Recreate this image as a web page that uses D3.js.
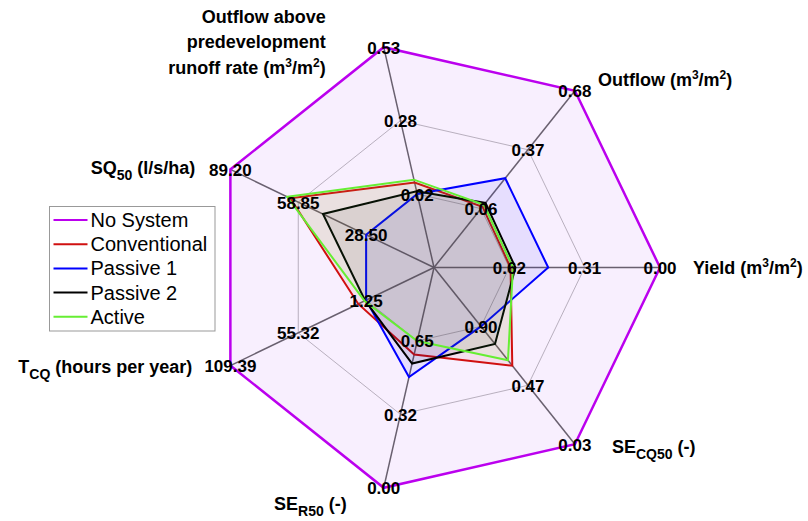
<!DOCTYPE html>
<html>
<head>
<meta charset="utf-8">
<script src="https://cdn.jsdelivr.net/npm/d3@7"></script>
<style>
  html, body { margin: 0; padding: 0; background: #fff; }
  svg { display: block; font-family: Arial, "Liberation Sans", sans-serif; }
</style>
</head>
<body>
<svg id="chart" width="808" height="521"></svg>
<script>
// ---- data ----
const categories = ["Yield", "Outflow", "Outflow above predevelopment runoff rate", "SQ50", "TCQ", "SE_R50", "SE_CQ50"];
const innerValues = [0.62, 0.06, 0.02, 28.50, 1.25, 0.65, 0.90];
const outerValues = [0.00, 0.68, 0.53, 89.20, 109.39, 0.00, 0.03];
const tickLabels = [
  ["0.62", "0.31", "0.00"],
  ["0.06", "0.37", "0.68"],
  ["0.02", "0.28", "0.53"],
  ["28.50", "58.85", "89.20"],
  ["1.25", "55.32", "109.39"],
  ["0.65", "0.32", "0.00"],
  ["0.90", "0.47", "0.03"]
];
const seriesNames = ["No System", "Conventional", "Passive 1", "Passive 2", "Active"];
const noSystem     = [0.00, 0.68, 0.53, 89.20, 109.39, 0.00, 0.03];
const conventional = [0.615, 0.07, 0.06, 62.4, 7.5, 0.59, 0.61];
const passive1     = [0.46, 0.22, 0.02, 28.50, 1.25, 0.49, 0.90];
const passive2     = [0.595, 0.09, 0.03, 47.8, 2.0, 0.55, 0.77];
const active       = [0.605, 0.08, 0.07, 63.8, 2.5, 0.65, 0.65];
const seriesValues = [noSystem, conventional, passive1, passive2, active];
const seriesColors = ["#bb00ee", "#d01010", "#0000ff", "#000000", "#66ee33"];
const fillColors   = ["#a020f0", "#d01010", "#0000ff", "#000000", "#66ee33"];

// axis titles (text segments; sup / sub)
const axisTitles = [
  [[{t:"Yield (m"},{t:"3",s:"sup"},{t:"/m"},{t:"2",s:"sup"},{t:")"}]],
  [[{t:"Outflow (m"},{t:"3",s:"sup"},{t:"/m"},{t:"2",s:"sup"},{t:")"}]],
  [[{t:"Outflow above"}],[{t:"predevelopment"}],[{t:"runoff rate (m"},{t:"3",s:"sup"},{t:"/m"},{t:"2",s:"sup"},{t:")"}]],
  [[{t:"SQ"},{t:"50",s:"sub"},{t:" (l/s/ha)"}]],
  [[{t:"T"},{t:"CQ",s:"sub"},{t:" (hours per year)"}]],
  [[{t:"SE"},{t:"R50",s:"sub"},{t:" (-)"}]],
  [[{t:"SE"},{t:"CQ50",s:"sub"},{t:" (-)"}]]
];

// ---- layout ----
const cx = 434, cy = 267.5, R = 226;
const n = categories.length;
const angle = i => i * 2 * Math.PI / n;
const pt = (i, r) => [cx + r * Math.cos(angle(i)), cy - r * Math.sin(angle(i))];
const scales = categories.map((c, i) =>
  d3.scaleLinear().domain([innerValues[i], outerValues[i]]).range([R / 3, R]));
// title placement relative to outer vertex: [dx, dy(baseline), anchor]
const titleLayout = [
  [33, 6.5, "start"], [23, -5, "start"], [-58, 1, "end"], [-35, 4.6, "end"],
  [-38, 7.4, "end"], [-37, 22, "end"], [37, 9, "start"]
];

const svg = d3.select("#chart");

// rings
const ringFractions = [1/3, 2/3];
const gGrid = svg.append("g");
ringFractions.forEach(f => {
  const pts = categories.map((c, i) => {
    const d = scales[i].domain();
    return pt(i, scales[i](d[0] + (d[1] - d[0]) * (f * 3 - 1) / 2));
  });
  gGrid.append("path")
    .attr("d", d3.line()(pts) + "Z")
    .attr("fill", "none").attr("stroke", "#aaaaaa").attr("stroke-width", 0.8);
});
// spokes
categories.forEach((c, i) => {
  const [x2, y2] = pt(i, scales[i](outerValues[i]));
  gGrid.append("line").attr("x1", cx).attr("y1", cy).attr("x2", x2).attr("y2", y2)
    .attr("stroke", "#666666").attr("stroke-width", 1.5);
});

// series
const gSeries = svg.append("g");
seriesValues.forEach((vals, k) => {
  const pts = vals.map((v, i) => pt(i, scales[i](v)));
  gSeries.append("path")
    .attr("d", d3.line()(pts) + "Z")
    .attr("fill", fillColors[k]).attr("fill-opacity", 0.07)
    .attr("stroke", seriesColors[k]).attr("stroke-width", k === 0 ? 2.5 : 2)
    .attr("stroke-linejoin", "miter");
});

// tick labels
const gTicks = svg.append("g").attr("font-size", 17).attr("font-weight", "bold").attr("fill", "#000");
categories.forEach((c, i) => {
  const dom = scales[i].domain();
  const tv = [dom[0], (dom[0] + dom[1]) / 2, dom[1]];
  tv.forEach((v, j) => {
    const [x, y] = pt(i, scales[i](v));
    gTicks.append("text").attr("x", x).attr("y", y + 1)
      .attr("text-anchor", "middle").attr("dominant-baseline", "central")
      .text(tickLabels[i][j]);
  });
});

// axis titles
const gTitles = svg.append("g").attr("font-size", 18).attr("font-weight", "bold").attr("fill", "#000");
categories.forEach((c, i) => {
  const [vx, vy] = pt(i, scales[i](outerValues[i]));
  const [dx, dy, anchor] = titleLayout[i];
  const lines = axisTitles[i];
  const mid = (lines.length - 1) / 2;
  lines.forEach((segs, li) => {
    const t = gTitles.append("text")
      .attr("x", vx + dx).attr("y", vy + dy + (li - mid) * 25.5)
      .attr("text-anchor", anchor);
    let shift = 0;
    segs.forEach(sg => {
      let target = sg.s === "sup" ? -7 : sg.s === "sub" ? 6 : 0;
      t.append("tspan").attr("dy", target - shift)
        .attr("font-size", sg.s ? (sg.s === "sup" ? 12 : 14) : null)
        .text(sg.t);
      shift = target;
    });
  });
});

// legend
const gLeg = svg.append("g");
gLeg.append("rect").attr("x", 49.5).attr("y", 206.5).attr("width", 165.5).attr("height", 124.5)
  .attr("fill", "#fff").attr("stroke", "#999").attr("stroke-width", 1);
seriesNames.forEach((name, k) => {
  const y = 220 + k * 24.2;
  gLeg.append("line").attr("x1", 53.5).attr("x2", 87.5).attr("y1", y).attr("y2", y)
    .attr("stroke", seriesColors[k]).attr("stroke-width", 2);
  gLeg.append("text").attr("x", 90.5).attr("y", y + 7).attr("font-size", 20)
    .attr("fill", "#000").text(name);
});
</script>
</body>
</html>
